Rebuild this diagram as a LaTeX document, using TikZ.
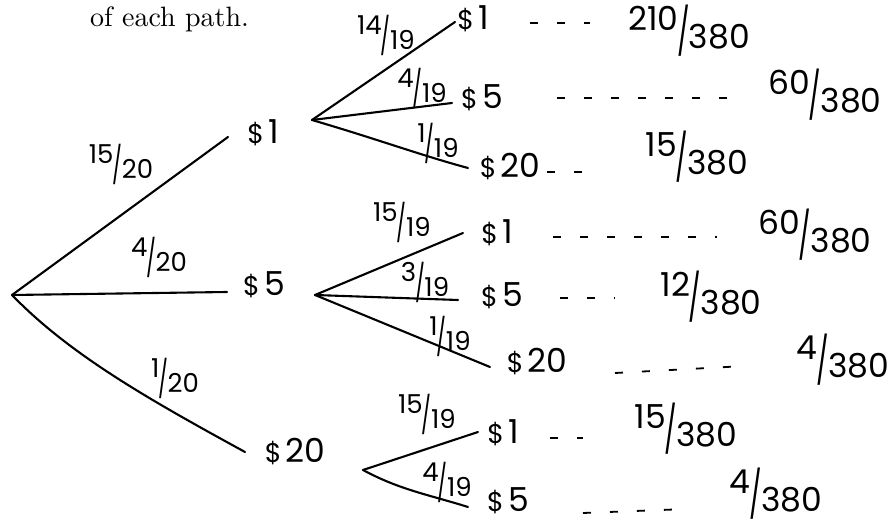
\documentclass[tikz,border=0pt]{standalone}
\usepackage{fontspec}
\usepackage{graphicx}
\newfontfamily\hand{Poppins}
\newcommand\hfr[2]{\raisebox{0.3em}{#1}\kern-0.04em\raisebox{-0.25em}{\scalebox{0.8}[1.4]{/}}\kern-0.02em\raisebox{-0.25em}{#2}}
\newcommand\dol{{\fontsize{27}{27}\selectfont\$}\kern4pt}
\begin{document}
\begin{tikzpicture}[x=1pt,y=-1pt,
  branch/.style={line width=2.1pt, line cap=round},
  dotline/.style={line width=1.8pt, dash pattern=on 8pt off 19pt},
  plab/.style={font=\hand\fontsize{26}{26}\selectfont, inner sep=0pt},
  leaf/.style={font=\hand\fontsize{33}{33}\selectfont, inner sep=0pt},
  res/.style={font=\hand\fontsize{33}{33}\selectfont, inner sep=0pt},
]
\useasboundingbox (0,0) rectangle (895,529);

\node[anchor=base west, inner sep=0pt] (txt) at (90,27) {\scalebox{2.8}{\fontsize{10}{12}\selectfont of each path.}};

% coordinates
\coordinate (root) at (12,295);
\coordinate (a1e) at (228,137);
\coordinate (a2e) at (227,292);
\coordinate (a3e) at (245,452);
\coordinate (fb) at (312,120);
\coordinate (fc) at (315,295);
\coordinate (fd) at (363,470);
\coordinate (b1e) at (455,22);
\coordinate (b2e) at (452,103);
\coordinate (b3e) at (468,168);
\coordinate (c1e) at (463,233);
\coordinate (c2e) at (458,300);
\coordinate (c3e) at (490,367);
\coordinate (d1e) at (478,432);
\coordinate (d2e) at (468,507);

% first level
\node[leaf] (A1) at (263,133) {\dol 1};
\node[leaf] (A2) at (264,285) {\dol 5};
\node[leaf] (A3) at (295,452) {\dol 20};
\draw[branch] (root) -- (a1e);
\draw[branch] (root) -- (a2e);
\draw[branch] (root) .. controls (70,355) and (150,400) .. (a3e);
\node[plab] (p1) at (121,164) {\hfr{15}{20}};
\node[plab] (p2) at (159,257) {\hfr{4}{20}};
\node[plab] (p3) at (175,378) {\hfr{1}{20}};

% from $1
\draw[branch] (fb) -- (b1e);
\draw[branch] (fb) -- (b2e);
\draw[branch] (fb) .. controls (380,140) and (420,155) .. (b3e);
\node[plab] (q1) at (386,35) {\hfr{14}{19}};
\node[plab] (q2) at (422,88) {\hfr{4}{19}};
\node[plab] (q3) at (438,143) {\hfr{1}{19}};
\node[leaf] (B1) at (473,19) {\dol 1};
\node[leaf] (B2) at (482,98) {\dol 5};
\node[leaf] (B3) at (510,167) {\dol 20};
\coordinate (g1s) at (530,23); \coordinate (g1e) at (590,23);
\coordinate (g2s) at (557,98); \coordinate (g2e) at (727,98);
\coordinate (g3s) at (547,172); \coordinate (g3e) at (592,172);
\draw[dotline] (g1s) -- (g1e);
\draw[dotline] (g2s) -- (g2e);
\draw[dotline] (g3s) -- (g3e);
\node[res] (r1) at (689,31) {\hfr{210}{380}};
\node[res] (r2) at (825,95) {\hfr{60}{380}};
\node[res] (r3) at (697,157) {\hfr{15}{380}};

% from $5
\draw[branch] (fc) -- (c1e);
\draw[branch] (fc) -- (c2e);
\draw[branch] (fc) -- (c3e);
\node[plab] (s1) at (402,222) {\hfr{15}{19}};
\node[plab] (s2) at (425,282) {\hfr{3}{19}};
\node[plab] (s3) at (450,336) {\hfr{1}{19}};
\node[leaf] (C1) at (497,233) {\dol 1};
\node[leaf] (C2) at (502,296) {\dol 5};
\node[leaf] (C3) at (537,362) {\dol 20};
\coordinate (h1s) at (553,237); \coordinate (h1e) at (717,237);
\coordinate (h2s) at (560,298); \coordinate (h2e) at (615,298);
\coordinate (h3s) at (615,373); \coordinate (h3e) at (745,366);
\draw[dotline] (h1s) -- (h1e);
\draw[dotline] (h2s) -- (h2e);
\draw[dotline] (h3s) -- (h3e);
\node[res] (t1) at (815,235) {\hfr{60}{380}};
\node[res] (t2) at (711,297) {\hfr{12}{380}};
\node[res] (t3) at (843,360) {\hfr{4}{380}};

% from $20
\draw[branch] (fd) -- (d1e);
\draw[branch] (fd) .. controls (400,490) and (430,495) .. (d2e);
\node[plab] (u1) at (427,414) {\hfr{15}{19}};
\node[plab] (u2) at (447,482) {\hfr{4}{19}};
\node[leaf] (D1) at (503,433) {\dol 1};
\node[leaf] (D2) at (508,501) {\dol 5};
\coordinate (k1s) at (550,438); \coordinate (k1e) at (583,438);
\coordinate (k2s) at (583,513); \coordinate (k2e) at (687,509);
\draw[dotline] (k1s) -- (k1e);
\draw[dotline] (k2s) -- (k2e);
\node[res] (v1) at (686,429) {\hfr{15}{380}};
\node[res] (v2) at (776,494) {\hfr{4}{380}};
\end{tikzpicture}
\end{document}
